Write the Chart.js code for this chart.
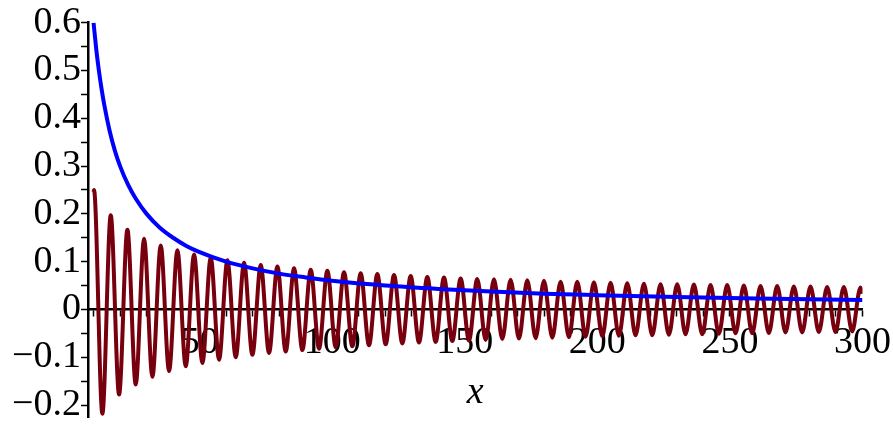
<!DOCTYPE html>
<html>
<head>
<meta charset="utf-8">
<script src="https://cdn.jsdelivr.net/npm/chart.js@4.4.1/dist/chart.umd.min.js"></script>
<style>
  body { margin: 0; background: #fff; }
</style>
</head>
<body>
<canvas id="myChart" width="893" height="426"></canvas>
<script>
// blue curve
const blueX = [10, 11, 12, 13, 14, 16, 18, 20, 23, 26, 30, 35, 40, 45, 50, 60, 70, 80, 90, 100, 120, 140, 160, 180, 200, 230, 260, 300];
const blueY = [0.6, 0.545, 0.5, 0.462, 0.429, 0.375, 0.333, 0.3, 0.261, 0.231, 0.2, 0.171, 0.15, 0.133, 0.12, 0.1, 0.086, 0.075, 0.067, 0.06, 0.05, 0.043, 0.0375, 0.033, 0.03, 0.026, 0.023, 0.02];

// dark red oscillation: start, every peak / trough, end
const redX = [10, 10.17, 13.32, 16.47, 19.62, 22.76, 25.90, 29.05, 32.19, 35.33, 38.47, 41.62, 44.76, 47.90, 51.05, 54.19, 57.33, 60.48, 63.62, 66.76, 69.90,
  73.04, 76.18, 79.33, 82.47, 85.61, 88.75, 91.89, 95.03, 98.17, 101.32, 104.46, 107.60, 110.74, 113.88, 117.02, 120.17, 123.31, 126.45, 129.59, 132.73,
  135.87, 139.02, 142.16, 145.30, 148.44, 151.58, 154.72, 157.87, 161.01, 164.15, 167.29, 170.43, 173.57, 176.72, 179.86, 183.00, 186.14, 189.28, 192.42,
  195.56, 198.71, 201.85, 204.99, 208.13, 211.27, 214.41, 217.56, 220.70, 223.84, 226.98, 230.12, 233.26, 236.41, 239.55, 242.69, 245.83, 248.97, 252.11,
  255.25, 258.40, 261.54, 264.68, 267.82, 270.96, 274.10, 277.25, 280.39, 283.53, 286.67, 289.81, 292.95, 296.10, 299.24, 300];
const redY = [0.246, 0.250, -0.218, 0.197, -0.178, 0.167, -0.157, 0.148, -0.141, 0.134, -0.129, 0.124, -0.119, 0.115, -0.112, 0.108, -0.105, 0.103, -0.100, 0.098, -0.095,
  0.093, -0.091, 0.090, -0.088, 0.086, -0.085, 0.083, -0.082, 0.081, -0.079, 0.078, -0.077, 0.076, -0.075, 0.074, -0.073, 0.072, -0.071, 0.070, -0.069,
  0.068, -0.068, 0.067, -0.066, 0.065, -0.065, 0.064, -0.064, 0.063, -0.062, 0.062, -0.061, 0.061, -0.060, 0.060, -0.059, 0.058, -0.058, 0.058,
  -0.057, 0.057, -0.056, 0.056, -0.055, 0.055, -0.054, 0.054, -0.054, 0.053, -0.053, 0.053, -0.052, 0.052, -0.052, 0.051, -0.051, 0.051, -0.050,
  0.050, -0.050, 0.049, -0.049, 0.049, -0.048, 0.048, -0.048, 0.048, -0.047, 0.047, -0.047, 0.047, -0.046, 0.046, 0.033];

const xLabels = [50, 100, 150, 200, 250, 300];
const yLabels = [-0.2, -0.1, 0, 0.1, 0.2, 0.3, 0.4, 0.5, 0.6];

const toPoints = (xs, ys) => xs.map((x, i) => ({x: x, y: ys[i]}));
const near = (v, list, eps) => list.find(t => Math.abs(t - v) < eps);
const fmt = v => (v < 0 ? '\u2212' : '') + (Math.abs(v) < 1e-9 ? '0' : Math.abs(v).toFixed(1));

const serif = '"Liberation Serif", "Times New Roman", serif';

new Chart(document.getElementById('myChart').getContext('2d'), {
  type: 'line',
  data: {
    datasets: [{
      data: toPoints(blueX, blueY),
      borderColor: '#0000ff',
      borderWidth: 4,
      pointRadius: 0,
      cubicInterpolationMode: 'monotone',
      fill: false
    }, {
      data: toPoints(redX, redY),
      borderColor: '#78000e',
      borderWidth: 4,
      pointRadius: 0,
      cubicInterpolationMode: 'monotone',
      fill: false
    }]
  },
  options: {
    responsive: false,
    animation: false,
    layout: {padding: {left: 0, top: 22.7, right: 30.5, bottom: 9}},
    plugins: {legend: {display: false}, tooltip: {enabled: false}},
    scales: {
      x: {
        type: 'linear',
        position: {y: 0},
        min: 7.9,
        max: 300,
        z: 1,
        border: {color: '#000', width: 2.5},
        grid: {drawOnChartArea: false, drawTicks: true, tickLength: 6, color: '#000', tickWidth: 1.5},
        afterFit: scale => { scale.paddingLeft = 0; scale.paddingRight = 0; },
        ticks: {
          stepSize: 10,
          includeBounds: false,
          maxRotation: 0,
          autoSkip: false,
          padding: 5,
          color: '#000',
          font: {family: serif, size: 38},
          callback: v => near(v, xLabels, 1e-6) !== undefined ? String(v) : ''
        },
        title: {
          display: true,
          text: 'x',
          color: '#000',
          padding: {top: -1, bottom: 0},
          font: {family: serif, size: 38, style: 'italic'}
        }
      },
      y: {
        type: 'linear',
        min: -0.225,
        max: 0.6,
        border: {color: '#000', width: 2.5},
        grid: {drawOnChartArea: false, drawTicks: true, tickLength: 7, color: '#000', tickWidth: 1.5},
        afterFit: scale => { scale.width = 88; scale.paddingTop = 0; scale.paddingBottom = 0; },
        ticks: {
          stepSize: 0.05,
          includeBounds: false,
          autoSkip: false,
          padding: 0,
          color: '#000',
          font: {family: serif, size: 38},
          callback: v => {
            const hit = near(v, yLabels, 1e-6);
            return hit !== undefined ? fmt(hit) : '';
          }
        }
      }
    }
  }
});
</script>
</body>
</html>
